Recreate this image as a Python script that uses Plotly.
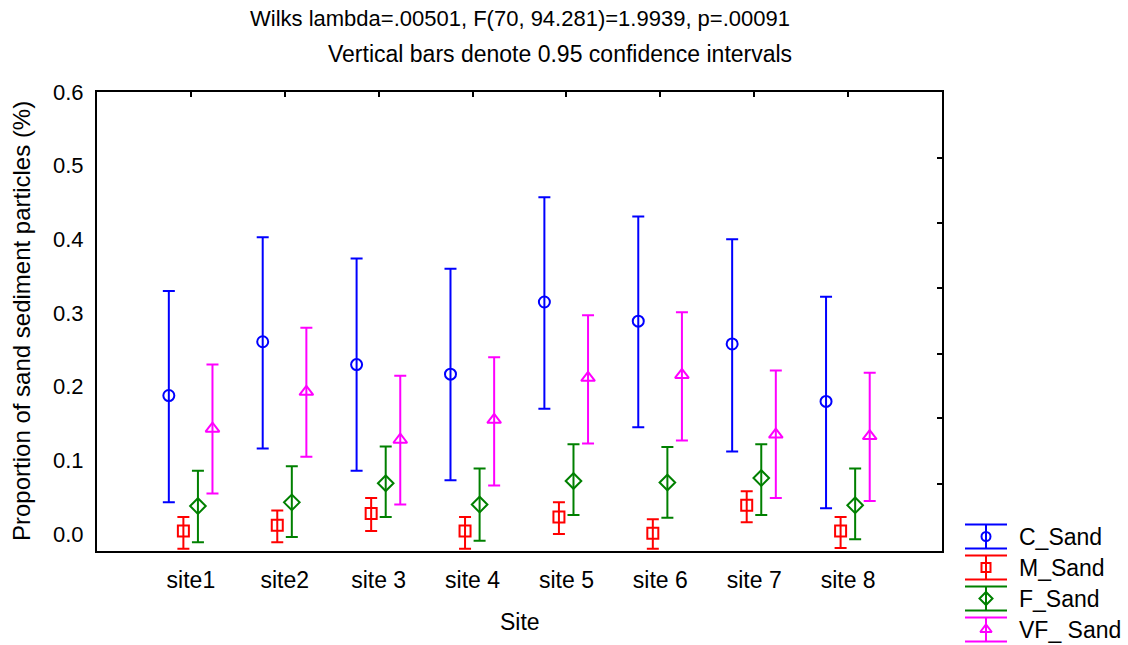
import plotly.graph_objects as go

W, H = 1128, 645

sites = ["site1", "site2", "site 3", "site 4", "site 5", "site 6", "site 7", "site 8"]
series_names = ["C_Sand", "M_Sand", "F_Sand", "VF_ Sand"]

c_mean  = [0.188, 0.261, 0.230, 0.217, 0.315, 0.289, 0.258, 0.180]
c_upper = [0.330, 0.403, 0.374, 0.360, 0.457, 0.431, 0.400, 0.322]
c_lower = [0.043, 0.116, 0.086, 0.073, 0.170, 0.145, 0.112, 0.035]

m_mean  = [0.004, 0.012, 0.028, 0.004, 0.023, 0.001, 0.039, 0.004]
m_upper = [0.023, 0.032, 0.049, 0.023, 0.043, 0.020, 0.058, 0.023]
m_lower = [-0.020, -0.011, 0.004, -0.020, 0.000, -0.020, 0.016, -0.019]

f_mean  = [0.038, 0.043, 0.069, 0.040, 0.072, 0.070, 0.076, 0.039]
f_upper = [0.086, 0.092, 0.119, 0.089, 0.122, 0.118, 0.122, 0.089]
f_lower = [-0.011, -0.004, 0.023, -0.009, 0.026, 0.022, 0.026, -0.007]

vf_mean  = [0.143, 0.193, 0.128, 0.155, 0.212, 0.216, 0.135, 0.133]
vf_upper = [0.230, 0.280, 0.215, 0.240, 0.297, 0.301, 0.222, 0.219]
vf_lower = [0.055, 0.105, 0.040, 0.066, 0.123, 0.127, 0.049, 0.045]

y_ticks = [0.0, 0.1, 0.2, 0.3, 0.4, 0.5, 0.6]
y_ticktext = ["0.0", "0.1", "0.2", "0.3", "0.4", "0.5", "0.6"]
right_ticks = [0.511, 0.422, 0.334, 0.245, 0.157, 0.068]

colors = ["#0000FF", "#FF0000", "#008000", "#FF00FF"]
symbols = ["circle-open", "square-open", "diamond-open", "triangle-up-open"]
msizes = [11, 11, 12, 12]
offsets = [-0.235, -0.08, 0.075, 0.23]

FONT = "Liberation Sans, Arial, sans-serif"

data = [
    (c_mean, c_upper, c_lower),
    (m_mean, m_upper, m_lower),
    (f_mean, f_upper, f_lower),
    (vf_mean, vf_upper, vf_lower),
]

fig = go.Figure()
for k, (mean, up, lo) in enumerate(data):
    xs = [i + 1 + offsets[k] for i in range(len(sites))]
    fig.add_trace(go.Scatter(
        x=xs, y=mean, mode="markers", showlegend=False,
        marker=dict(symbol=symbols[k], size=msizes[k], color=colors[k],
                    line=dict(color=colors[k], width=2)),
        error_y=dict(type="data", symmetric=False,
                     array=[u - m for u, m in zip(up, mean)],
                     arrayminus=[m - l for m, l in zip(mean, lo)],
                     color=colors[k], thickness=2, width=6),
        xaxis="x", yaxis="y",
    ))

# empty trace so the overlaid top/right axes are drawn
fig.add_trace(go.Scatter(x=[None], y=[None], mode="markers", showlegend=False,
                         hoverinfo="skip", xaxis="x2", yaxis="y2"))

# custom legend keys on a hidden axis
for k in range(4):
    fig.add_trace(go.Scatter(
        x=[0.5], y=[3.5 - k], mode="markers", showlegend=False,
        marker=dict(symbol=symbols[k], size=msizes[k] - 2, color=colors[k],
                    line=dict(color=colors[k], width=2)),
        error_y=dict(type="constant", value=0.39, color=colors[k], thickness=2, width=21),
        xaxis="x3", yaxis="y3",
    ))

x_dom = [97 / W, 942 / W]
y_dom = [(H - 551) / H, (H - 92) / H]
axis_line = dict(showline=True, linecolor="black", linewidth=2, showgrid=False,
                 zeroline=False, automargin=False)

fig.update_layout(
    width=W, height=H,
    margin=dict(l=0, r=0, t=0, b=0, pad=0, autoexpand=False),
    paper_bgcolor="white", plot_bgcolor="white",
    showlegend=False,
    font=dict(family=FONT, size=20, color="black"),
    xaxis=dict(domain=x_dom, range=[0, 9], tickmode="array", tickvals=list(range(1, 9)),
               ticktext=sites, ticks="", anchor="y", ticklabelstandoff=7, mirror=True,
               tickfont=dict(size=23), **axis_line),
    xaxis2=dict(domain=x_dom, range=[0, 9], overlaying="x", side="top", anchor="y",
                tickmode="array", tickvals=list(range(1, 9)), ticks="inside", ticklen=5,
                tickwidth=2, tickcolor="black", showticklabels=False, **axis_line),
    yaxis=dict(domain=y_dom, range=[-0.023, 0.6], tickmode="array", tickvals=y_ticks,
               ticktext=y_ticktext, ticks="", anchor="x", ticklabelstandoff=7, mirror=True,
               tickfont=dict(size=22), **axis_line),
    yaxis2=dict(domain=y_dom, range=[-0.023, 0.6], overlaying="y", side="right", anchor="x",
                tickmode="array", tickvals=right_ticks, ticks="inside", ticklen=5,
                tickwidth=2, tickcolor="black", showticklabels=False, **axis_line),
    xaxis3=dict(domain=[955 / W, 1017 / W], range=[0, 1], visible=False, fixedrange=True,
                automargin=False),
    yaxis3=dict(domain=[0, 124 / H], range=[0, 4], visible=False, fixedrange=True,
                anchor="x3", automargin=False),
)

annotations = [
    dict(text="Wilks lambda=.00501, F(70, 94.281)=1.9939, p=.00091", x=520 / W, y=1 - 18 / H, size=22),
    dict(text="Vertical bars denote 0.95 confidence intervals", x=560 / W, y=1 - 54 / H, size=23),
    dict(text="Site", x=520 / W, y=1 - 622 / H, size=23),
    dict(text="Proportion of sand sediment particles (%)", x=22 / W, y=1 - 321 / H, textangle=-90, size=24),
]
for a in annotations:
    size = a.pop("size")
    fig.add_annotation(xref="paper", yref="paper", xanchor="center", yanchor="middle",
                       showarrow=False, font=dict(size=size, family=FONT, color="black"), **a)
for k, name in enumerate(series_names):
    fig.add_annotation(xref="paper", yref="y3", x=1017 / W, y=3.5 - k, text=name,
                       xanchor="left", yanchor="middle", showarrow=False,
                       font=dict(size=23, family=FONT, color="black"))

fig.write_html("out.html")
